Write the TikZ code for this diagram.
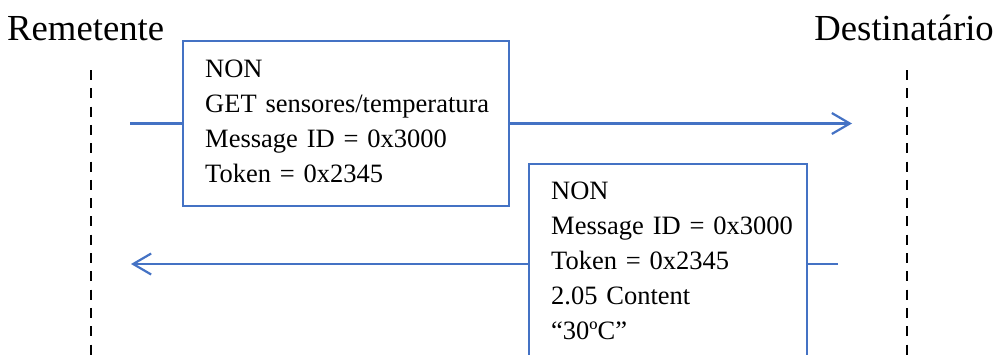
\documentclass[tikz,border=0pt]{standalone}
\usepackage{fontspec}
\setmainfont{Liberation Serif}
\usetikzlibrary{arrows.meta}
\definecolor{msgblue}{HTML}{4472C4}
\tikzset{
  actor/.style={inner sep=0pt, font=\fontsize{36.7}{40}\selectfont},
  lifeline/.style={draw=black, line width=2.8pt, dash pattern=on 10pt off 8.3pt},
  msgbox/.style={draw=msgblue, line width=2.2pt, fill=white, inner sep=0pt},
  msgtext/.style={inner sep=0pt, align=left, text width=300pt, anchor=base west,
    font=\fontsize{26.5}{35}\selectfont},
  msgline/.style={draw=msgblue, line width=2.2pt},
  msgarrow/.style={msgline, -{Straight Barb[length=18pt,width=21pt,line width=2.2pt]}}
}
\begin{document}
\begin{tikzpicture}[x=1pt,y=-1pt]
\useasboundingbox (0,0) rectangle (998,354);
\clip (0,0) rectangle (998,354);
% actors
\node[actor, anchor=base west] (rem) at (7,40) {Remetente};
\node[actor, anchor=base east] (dst) at (994,40) {Destinatário};
% lifelines
\coordinate (ltop) at (91,70);
\coordinate (lbot) at (91,360);
\coordinate (rtop) at (907,70);
\coordinate (rbot) at (907,360);
\draw[lifeline] (ltop) -- (lbot);
\draw[lifeline] (rtop) -- (rbot);
% message 1
\node[msgbox, minimum width=326pt, minimum height=165pt] (box1) at (346,123.5) {};
\node[msgtext] (t1) at (205,77) {NON\\GET sensores/temperatura\\Message ID = 0x3000\\Token = 0x2345};
\coordinate (s1) at (130,123.5);
\coordinate (e1) at (852,123.5);
\draw[msgline] (s1) -- (box1.west);
\draw[msgarrow] (box1.east) -- (e1);
% message 2
\node[msgbox, minimum width=278pt, minimum height=216pt] (box2) at (668,272) {};
\node[msgtext] (t2) at (551,199) {NON\\Message ID = 0x3000\\Token = 0x2345\\2.05 Content\\“30ºC”};
\coordinate (s2) at (838,264);
\coordinate (e2) at (131,264);
\draw[msgline] (s2) -- (box2.east |- s2);
\draw[msgarrow] (box2.west |- s2) -- (e2);
\end{tikzpicture}
\end{document}
